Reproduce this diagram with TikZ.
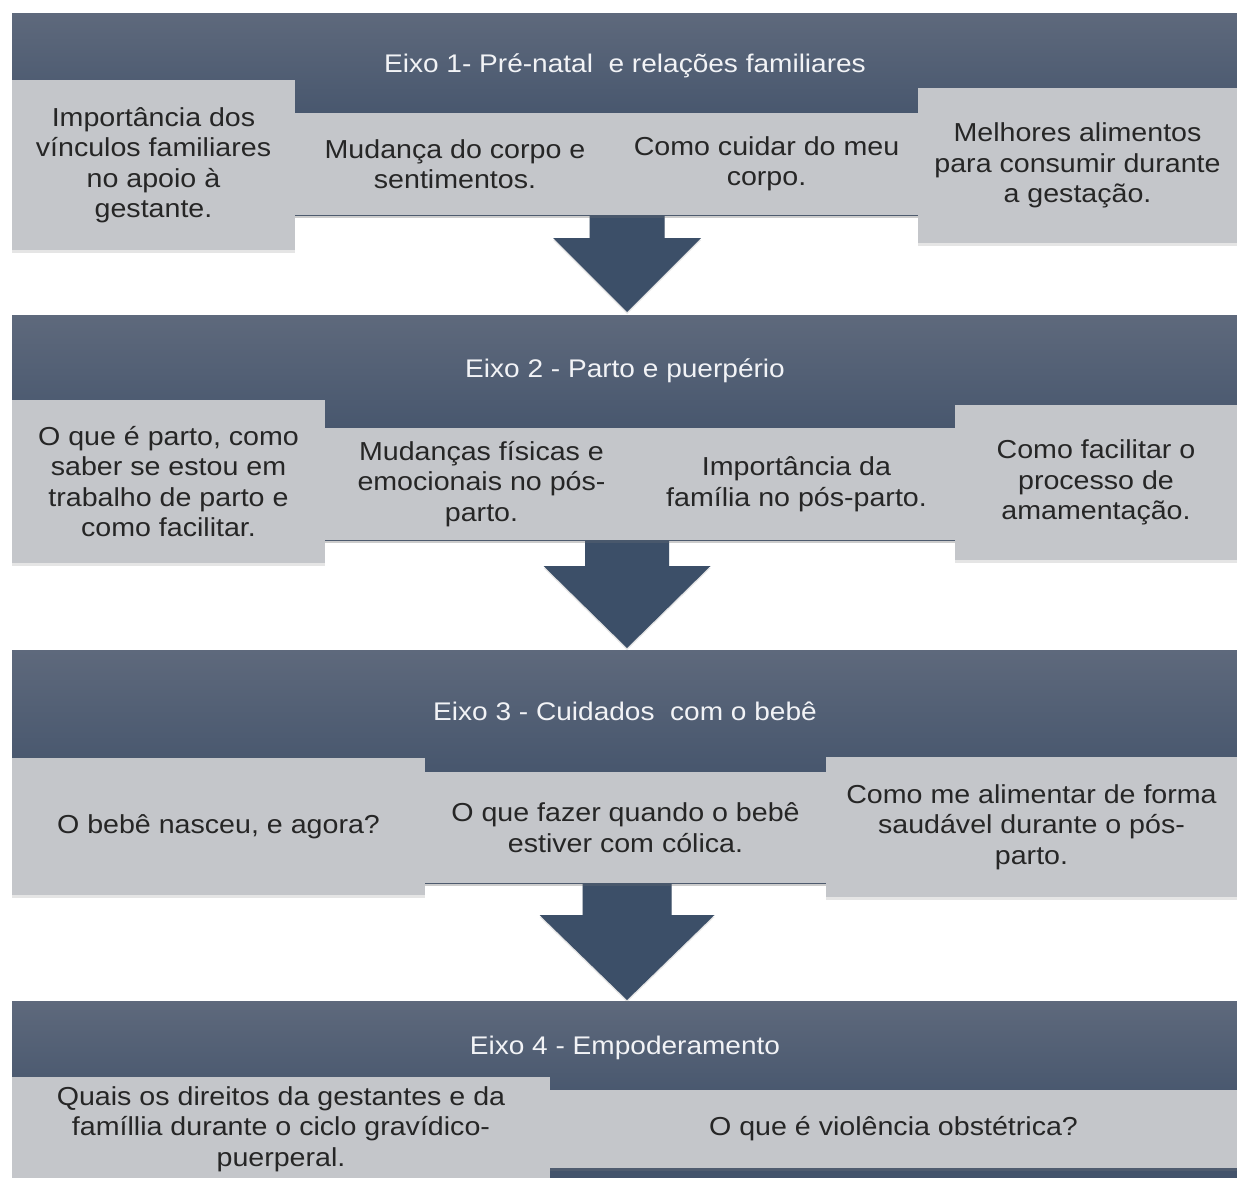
\documentclass[tikz,border=0pt]{standalone}
\usepackage{fontspec}
\setmainfont{Liberation Sans}[FakeStretch=1.1]
\usetikzlibrary{shadows,calc}
\definecolor{bartop}{RGB}{94,105,124}
\definecolor{barmid}{RGB}{72,87,110}
\definecolor{barbot}{RGB}{66,82,106}
\definecolor{arrowc}{RGB}{60,79,104}
\definecolor{boxc}{RGB}{196,198,202}
\definecolor{boxtext}{RGB}{38,38,38}
\definecolor{titlec}{RGB}{242,243,246}
\begin{document}
\begin{tikzpicture}[x=1pt,y=-1pt,
  bar/.style={anchor=north west, inner sep=0pt, minimum width=1225pt,
    top color=bartop, bottom color=barbot, middle color=barmid, draw=none,
    drop shadow={shadow xshift=0pt, shadow yshift=-3pt, opacity=0.25}},
  axistitle/.style={text=titlec, font=\fontsize{25.5}{30}\selectfont, inner sep=0pt},
  topic/.style={fill=boxc, text=boxtext, align=center, inner sep=0pt,
    font=\fontsize{26}{30.5}\selectfont,
    drop shadow={shadow xshift=0pt, shadow yshift=-3pt, opacity=0.2}},
  blockarrow/.style={fill=arrowc, draw=none,
    drop shadow={shadow xshift=0pt, shadow yshift=-2pt, opacity=0.2}}
]
\useasboundingbox[fill=white] (0,0) rectangle (1237,1178);

% axis bars
\node[bar, minimum height=202pt] (e1) at (12,13) {};
\node[bar, minimum height=225pt] (e2) at (12,315) {};
\node[bar, minimum height=233pt] (e3) at (12,650) {};
\node[bar, minimum height=190pt] (e4) at (12,1001) {};

\node[axistitle] (t1) at (625,66) {Eixo 1- Pré-natal \ e relações familiares};
\node[axistitle] (t2) at (625,371) {Eixo 2 - Parto e puerpério};
\node[axistitle] (t3) at (625,711) {Eixo 3 - Cuidados \ com o bebê};
\node[axistitle] (t4) at (625,1048) {Eixo 4 - Empoderamento};

% arrows between axes
\coordinate (tip1) at (627,312);
\coordinate (tip2) at (627,648);
\coordinate (tip3) at (627,1000);
\fill[blockarrow] (tip1) -- ++(-74,-74) -- ++(36.5,0) -- ++(0,-30) -- ++(75,0) -- ++(0,30) -- ++(36.5,0) -- cycle;
\fill[blockarrow] (tip2) -- ++(-83.5,-82) -- ++(41.5,0) -- ++(0,-32) -- ++(84,0) -- ++(0,32) -- ++(41.5,0) -- cycle;
\fill[blockarrow] (tip3) -- ++(-87.5,-85) -- ++(43,0) -- ++(0,-38) -- ++(89,0) -- ++(0,38) -- ++(43,0) -- cycle;

% row 1
\node[topic, minimum width=283pt, minimum height=170pt] (b11) at (153.5,165) {Importância dos\\vínculos familiares\\no apoio à\\gestante.};
\node[topic, minimum width=320pt, minimum height=102pt] (b12) at (455,164) {Mudança do corpo e\\sentimentos.};
\node[topic, minimum width=303pt, minimum height=102pt] (b13) at (766.5,164) {Como cuidar do meu\\corpo.};
\node[topic, minimum width=319pt, minimum height=155pt] (b14) at (1077.5,165.5) {Melhores alimentos\\para consumir durante\\a gestação.};

% row 2
\node[topic, minimum width=313pt, minimum height=163pt] (b21) at (168.5,481.5) {O que é parto, como\\saber se estou em\\trabalho de parto e\\como facilitar.};
\node[topic, minimum width=313pt, minimum height=112pt] (b22) at (481.5,484) {Mudanças físicas e\\emocionais no pós-\\parto.};
\node[topic, minimum width=317pt, minimum height=112pt] (b23) at (796.5,484) {Importância da\\família no pós-parto.};
\node[topic, minimum width=282pt, minimum height=155pt] (b24) at (1096,482.5) {Como facilitar o\\processo de\\amamentação.};

% row 3
\node[topic, minimum width=413pt, minimum height=137pt] (b31) at (218.5,826.5) {O bebê nasceu, e agora?};
\node[topic, minimum width=401pt, minimum height=111pt] (b32) at (625.5,827.5) {O que fazer quando o bebê\\estiver com cólica.};
\node[topic, minimum width=411pt, minimum height=140pt] (b33) at (1031.5,827) {Como me alimentar de forma\\saudável durante o pós-\\parto.};

% row 4
\node[topic, minimum width=538pt, minimum height=104pt] (b41) at (281,1129) {Quais os direitos da gestantes e da\\famíllia durante o ciclo gravídico-\\puerperal.};
\node[topic, minimum width=687pt, minimum height=78pt] (b42) at (893.5,1129) {O que é violência obstétrica?};
\end{tikzpicture}
\end{document}
